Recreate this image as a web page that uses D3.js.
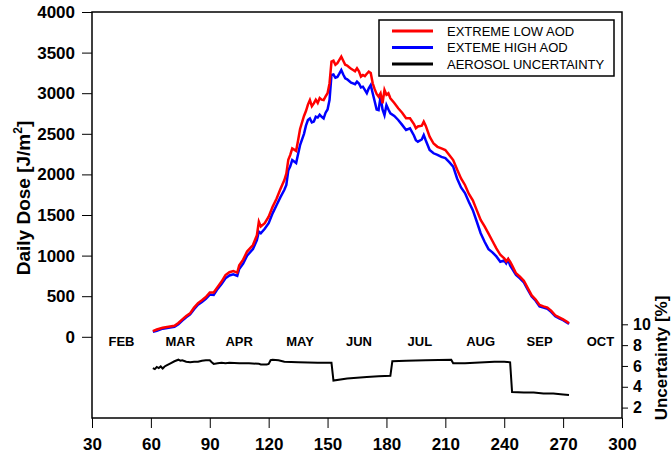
<!DOCTYPE html>
<html>
<head>
<meta charset="utf-8">
<script src="https://cdn.jsdelivr.net/npm/d3@7"></script>
<style>
  body { margin: 0; background: #fff; }
  text { font-family: "Liberation Sans", Arial, sans-serif; }
</style>
</head>
<body>
<div id="chart"></div>
<script>
// day of year for the dose curves
var days = [61,63,66,69,72,74,76,78,80,82,84,86,88,90,92,94,96,98,100,102,104,105,107,109,112,114,115,116,118,120,
  122,124,126,128,129,130,131,132,134,135,136,138,139,140,141,142,143,144,145,146,147,148,149,150,151,152,153,154,155,156,
  157,158,159,160,161,162,163,164,165,166,167,168,169,170,171,172,173,174,175,176,177,178,179,180,181,182,184,186,188,190,
  192,194,195,196,198,199,200,202,204,206,208,210,212,214,216,218,220,222,224,226,228,230,232,234,236,238,240,241,242,243,
  244,246,248,250,252,254,256,258,260,262,264,266,268,270,272,273];
var lowAod = [70,90,112,125,135,170,215,255,290,360,415,450,490,545,545,615,680,760,795,810,790,880,950,1050,1130,1250,1418,1360,1400,1480,
  1600,1700,1820,1930,2010,2180,2240,2320,2290,2420,2560,2720,2780,2860,2915,2840,2875,2920,2880,2940,2920,2915,2960,3000,3120,3390,3400,3350,3370,3410,
  3450,3400,3350,3340,3320,3300,3285,3270,3306,3270,3203,3224,3210,3240,3265,3250,3122,3050,2990,2957,2999,2875,3039,2980,3000,2937,2880,2814,2760,2691,
  2691,2620,2568,2590,2600,2650,2600,2465,2380,2340,2320,2300,2240,2177,2060,1950,1870,1760,1680,1560,1440,1360,1270,1180,1090,1010,967,930,960,925,
  880,782,740,690,600,510,460,392,375,360,320,265,240,215,185,166];
var highAod = [60,75,100,112,122,155,200,240,275,340,395,430,468,520,515,590,650,720,755,770,750,835,900,1000,1080,1190,1295,1275,1330,1400,
  1520,1620,1720,1810,1870,2050,2100,2177,2140,2250,2360,2500,2600,2670,2690,2640,2650,2710,2700,2735,2710,2690,2760,2800,2915,3224,3230,3190,3200,3240,
  3285,3230,3183,3170,3150,3130,3120,3110,3142,3120,3070,3080,3040,2999,3060,3101,3000,2900,2800,2792,2957,2800,2730,2854,2800,2752,2720,2670,2610,2547,
  2568,2480,2420,2403,2430,2485,2420,2300,2260,2240,2215,2200,2150,2095,1950,1840,1770,1660,1560,1420,1275,1170,1080,1040,990,925,940,905,950,880,
  840,761,720,670,580,495,445,375,360,345,305,252,228,205,175,158];

// aerosol uncertainty [%]
var uncDays = [61,62,63,64,65,66,67,68,70,72,74,75,76,78,80,82,84,86,88,90,91,92,94,96,98,100,105,110,115,116,
  119,120,121,122,125,128,135,145,152,153,160,170,176,182,183,190,200,213,214,220,230,235,240,243,244,250,255,260,265,270,273];
var uncertainty = [5.8,5.7,5.9,5.8,5.95,5.75,5.95,6.05,6.25,6.45,6.6,6.5,6.55,6.4,6.35,6.4,6.4,6.5,6.55,6.55,6.35,6.2,6.25,6.3,6.25,6.3,6.25,6.25,6.2,6.15,
  6.15,6.2,6.55,6.6,6.55,6.4,6.35,6.3,6.3,4.6,4.8,4.95,5.0,5.05,6.45,6.5,6.55,6.6,6.25,6.25,6.35,6.4,6.4,6.35,3.5,3.45,3.45,3.35,3.35,3.25,3.2];

var months = ["FEB","MAR","APR","MAY","JUN","JUL","AUG","SEP","OCT"];
var monthDays = [45,75,105,136,166,197,228,258,289];
var dayTicks = [30,60,90,120,150,180,210,240,270,300];
var doseTicks = [0,500,1000,1500,2000,2500,3000,3500,4000];
var uncTicks = [2,4,6,8,10];

var legendNames = ["EXTREME LOW AOD","EXTEME HIGH AOD","AEROSOL UNCERTAINTY"];
var legendColors = ["#ff0000","#0000ff","#000000"];

var W = 671, H = 461;
var plotL = 92, plotR = 622, plotT = 12, plotB = 418;

var svg = d3.select("#chart").append("svg")
  .attr("width", W)
  .attr("height", H);

var x = d3.scaleLinear().domain([30, 300]).range([plotL, plotR]);
var y = d3.scaleLinear().domain([-1000, 4000]).range([plotB, plotT]);
var y2 = d3.scaleLinear().domain([1, 40]).range([plotB, plotT]);

// axes
var fmt = d3.format("d");
var gx = svg.append("g")
  .attr("transform", "translate(0," + plotB + ")")
  .call(d3.axisBottom(x).tickValues(dayTicks).tickFormat(fmt).tickSize(10).tickSizeOuter(0).tickPadding(10));
var gy = svg.append("g")
  .attr("transform", "translate(" + plotL + ",0)")
  .call(d3.axisLeft(y).tickValues(doseTicks).tickFormat(fmt).tickSize(10).tickSizeOuter(0).tickPadding(7));
var gy2 = svg.append("g")
  .attr("transform", "translate(" + plotR + ",0)")
  .call(d3.axisRight(y2).tickValues(uncTicks).tickFormat(fmt).tickSize(6).tickSizeOuter(0).tickPadding(5));

[gx, gy, gy2].forEach(function(g) {
  g.select(".domain").remove();
  g.selectAll("text")
    .style("font-size", g === gy2 ? "16px" : "17px")
    .style("font-weight", "bold")
    .attr("fill", "#000");
  g.selectAll("line").attr("stroke", "#000");
});

// frame
svg.append("rect")
  .attr("x", plotL)
  .attr("y", plotT)
  .attr("width", plotR - plotL)
  .attr("height", plotB - plotT)
  .attr("fill", "none")
  .attr("stroke", "#000")
  .attr("stroke-width", 1.5);

// month labels
svg.selectAll(".month")
  .data(months)
  .enter().append("text")
  .attr("class", "month")
  .attr("x", function(d, i) { return x(monthDays[i]); })
  .attr("y", y(0) + 9)
  .attr("text-anchor", "middle")
  .style("font-size", "13px")
  .style("font-weight", "bold")
  .text(function(d) { return d; });

// dose curves
var line = d3.line()
  .x(function(d) { return x(d[0]); })
  .y(function(d) { return y(d[1]); });

svg.append("path")
  .attr("fill", "none")
  .attr("stroke", legendColors[1])
  .attr("stroke-width", 2.5)
  .attr("d", line(days.map(function(d, i) { return [d, highAod[i]]; })));

svg.append("path")
  .attr("fill", "none")
  .attr("stroke", legendColors[0])
  .attr("stroke-width", 2.5)
  .attr("d", line(days.map(function(d, i) { return [d, lowAod[i]]; })));

// uncertainty line
var line2 = d3.line()
  .x(function(d) { return x(d[0]); })
  .y(function(d) { return y2(d[1]); });

svg.append("path")
  .attr("fill", "none")
  .attr("stroke", "#000")
  .attr("stroke-width", 2)
  .attr("d", line2(uncDays.map(function(d, i) { return [d, uncertainty[i]]; })));

// axis titles
svg.append("text")
  .attr("transform", "translate(30," + 198 + ") rotate(-90)")
  .attr("text-anchor", "middle")
  .style("font-size", "19px")
  .style("font-weight", "bold")
  .call(function(t) {
    t.append("tspan").text("Daily Dose [J/m");
    t.append("tspan").attr("dy", -8).style("font-size", "12px").text("2");
    t.append("tspan").attr("dy", 8).text("]");
  });

svg.append("text")
  .attr("transform", "translate(667," + 358 + ") rotate(-90)")
  .attr("text-anchor", "middle")
  .style("font-size", "17px")
  .style("font-weight", "bold")
  .text("Uncertainty [%]");

// legend
var lg = svg.append("g").attr("transform", "translate(379,20)");
lg.append("rect")
  .attr("width", 235)
  .attr("height", 56)
  .attr("fill", "#fff")
  .attr("stroke", "#000")
  .attr("stroke-width", 1.5);
legendNames.forEach(function(name, i) {
  var yy = 11 + i * 16.5;
  lg.append("line")
    .attr("x1", 13).attr("x2", 54)
    .attr("y1", yy).attr("y2", yy)
    .attr("stroke", legendColors[i])
    .attr("stroke-width", 3);
  lg.append("text")
    .attr("x", 68)
    .attr("y", yy + 4.5)
    .style("font-size", "13px")
    .text(name);
});
</script>
</body>
</html>
